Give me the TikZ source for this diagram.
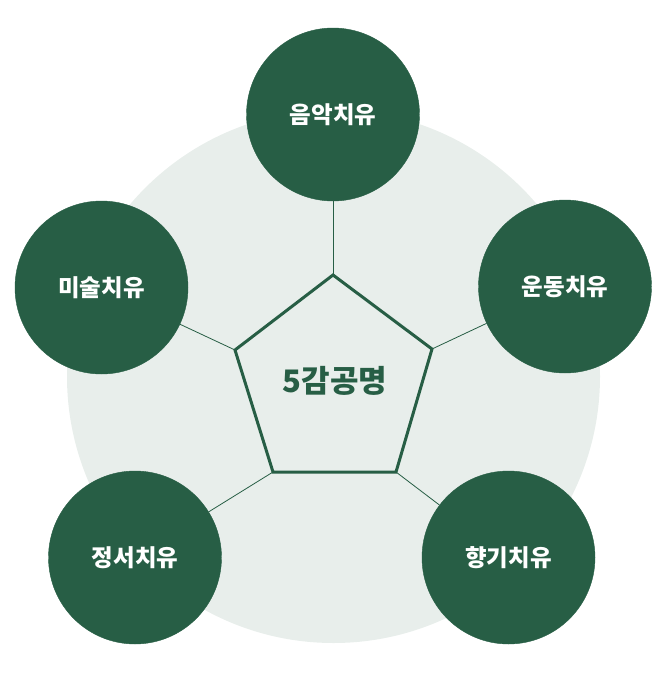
\documentclass[tikz,border=0pt]{standalone}
\usepackage{fontspec}
\usepackage{tikz}
\newfontfamily\kr{Noto Sans CJK KR}
\definecolor{forest}{HTML}{275E45}
\definecolor{mist}{HTML}{E8EEEB}
\newcommand{\therapy}[4]{ \node[shape=circle,draw=forest,fill=forest,inner sep=0pt,minimum size=173pt,text=white,font={\kr\bfseries\fontsize{23.5pt}{27pt}\selectfont}] (#1) at ( #2 , #3 ) {#4};}
\newcommand{\corner}[3]{ \coordinate (#1) at ( #2 , #3 );}

\begin{document}
\begin{tikzpicture}[x=1pt,y=-1pt]
        \useasboundingbox (0,0) rectangle (667,680);
        \fill[mist] (333.5,376.5) circle[radius=266.5pt];

        \therapy{music}{333}{114.5}{음악치유}
        \therapy{exercise}{565}{286.5}{운동치유}
        \therapy{scent}{508.5}{557.5}{향기치유}
        \therapy{emotion}{135}{557.5}{정서치유}
        \therapy{art}{101.5}{287.5}{미술치유}

        \corner{p1}{333}{275}
        \corner{p2}{432}{349}
        \corner{p3}{396}{472}
        \corner{p4}{273}{472}
        \corner{p5}{235}{350}

        \draw[forest, line width=0.8pt] (p1) -- (music);
        \draw[forest, line width=0.8pt] (p2) -- (exercise);
        \draw[forest, line width=0.8pt] (p3) -- (scent);
        \draw[forest, line width=0.8pt] (p4) -- (emotion);
        \draw[forest, line width=0.8pt] (p5) -- (art);

        \draw[forest, line width=3pt, line join=miter] (p1) -- (p2) -- (p3) -- (p4) -- (p5) -- cycle;
        \node[text=forest, font={\kr\bfseries\fontsize{31pt}{35pt}\selectfont}] (core) at (335,381) {5감공명};
    \end{tikzpicture}
\end{document}
